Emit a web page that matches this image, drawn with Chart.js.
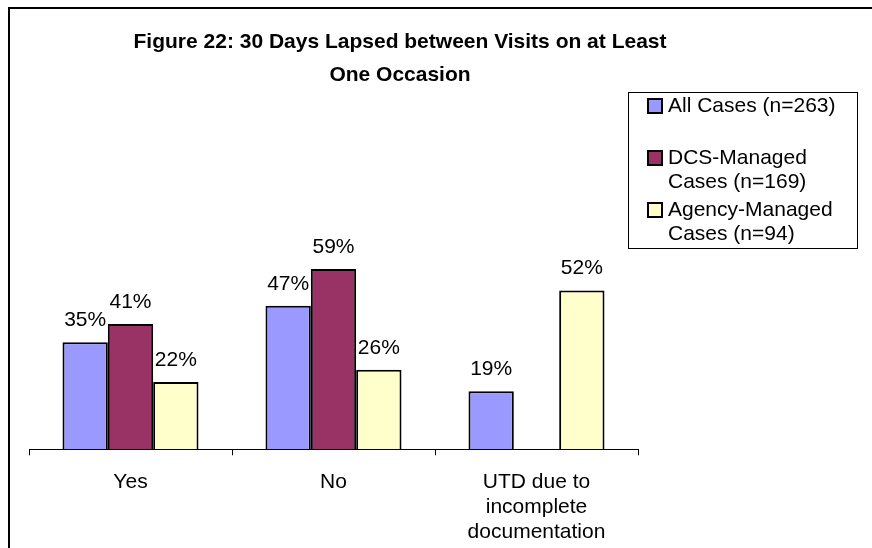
<!DOCTYPE html>
<html lang="en">
<head>
    <meta charset="UTF-8">
    <title>Figure 22: 30 Days Lapsed between Visits on at Least One Occasion</title>
    <script src="https://cdn.jsdelivr.net/npm/chart.js"></script>
    <style>
        body {
            margin: 0;
            padding: 0;
            background-color: white;
            overflow: hidden;
        }
        .wrap {
            position: relative;
            width: 872px;
            height: 548px;
        }
        .frame {
            position: absolute;
            left: 8px;
            top: 7px;
            right: -20px;
            bottom: -20px;
            border-top: 2px solid #000;
            border-left: 2px solid #000;
            pointer-events: none;
        }
        canvas {
            position: absolute;
            left: 0;
            top: 0;
        }
    </style>
</head>
<body>
    <div class="wrap">
        <canvas id="lapseChart"></canvas>
        <div class="frame"></div>
    </div>

    <script>
        const chartTitle = ['Figure 22: 30 Days Lapsed between Visits on at Least', 'One Occasion'];
        const categories = ['Yes', 'No', ['UTD due to', 'incomplete', 'documentation']];
        const seriesNames = ['All Cases (n=263)', 'DCS-Managed Cases (n=169)', 'Agency-Managed Cases (n=94)'];
        const allCases = [35, 47, 19];
        const dcsManaged = [41, 59, null];
        const agencyManaged = [22, 26, 52];

        const fontFamily = "'Liberation Sans', Arial, sans-serif";

        // title centred over the whole figure, not only the plot
        const figTitle = {
            id: 'figTitle',
            afterDraw(chart) {
                const ctx = chart.ctx;
                ctx.save();
                ctx.font = 'bold 21px ' + fontFamily;
                ctx.fillStyle = '#000';
                ctx.textAlign = 'center';
                ctx.textBaseline = 'middle';
                chartTitle.forEach((line, i) => {
                    ctx.fillText(line, 400, 42 + i * 33);
                });
                ctx.restore();
            }
        };

        // percent labels above each bar
        const barLabels = {
            id: 'barLabels',
            afterDatasetsDraw(chart) {
                const ctx = chart.ctx;
                ctx.save();
                ctx.font = '21px ' + fontFamily;
                ctx.fillStyle = '#000';
                ctx.textAlign = 'center';
                ctx.textBaseline = 'alphabetic';
                chart.data.datasets.forEach((ds, i) => {
                    chart.getDatasetMeta(i).data.forEach((bar, j) => {
                        if (ds.data[j] == null) return;
                        ctx.fillText(ds.data[j] + '%', bar.x, bar.y - 16);
                    });
                });
                ctx.restore();
            }
        };

        // Excel style legend box on the right
        const boxLegend = {
            id: 'boxLegend',
            afterDraw(chart) {
                const ctx = chart.ctx;
                const left = 628, top = 92, right = 857, bottom = 248;
                ctx.save();
                ctx.strokeStyle = '#000';
                ctx.lineWidth = 1;
                ctx.strokeRect(left + 0.5, top + 0.5, right - left, bottom - top);
                ctx.font = '21px ' + fontFamily;
                ctx.textBaseline = 'middle';
                ctx.textAlign = 'left';
                let y = 106;
                chart.data.datasets.forEach(ds => {
                    // wrap label into lines
                    const words = ds.label.split(' ');
                    const lines = [];
                    let cur = '';
                    words.forEach(w => {
                        const test = cur ? cur + ' ' + w : w;
                        if (cur && ctx.measureText(test).width > 185) {
                            lines.push(cur);
                            cur = w;
                        } else {
                            cur = test;
                        }
                    });
                    lines.push(cur);

                    ctx.fillStyle = ds.backgroundColor;
                    ctx.fillRect(648, y - 7, 14, 14);
                    ctx.lineWidth = 2;
                    ctx.strokeRect(648, y - 7, 14, 14);
                    ctx.fillStyle = '#000';
                    lines.forEach((line, k) => {
                        ctx.fillText(line, 668, y + k * 24.5);
                    });
                    y += 52;
                });
                ctx.restore();
            }
        };

        const ctx = document.getElementById('lapseChart').getContext('2d');
        const lapseChart = new Chart(ctx, {
            type: 'bar',
            data: {
                labels: categories,
                datasets: [
                    {
                        label: seriesNames[0],
                        data: allCases,
                        backgroundColor: '#9999FF',
                        borderColor: '#000',
                        borderWidth: 2
                    },
                    {
                        label: seriesNames[1],
                        data: dcsManaged,
                        backgroundColor: '#993366',
                        borderColor: '#000',
                        borderWidth: 2
                    },
                    {
                        label: seriesNames[2],
                        data: agencyManaged,
                        backgroundColor: '#FFFFCC',
                        borderColor: '#000',
                        borderWidth: 2
                    }
                ]
            },
            options: {
                responsive: true,
                maintainAspectRatio: false,
                animation: false,
                devicePixelRatio: 1,
                categoryPercentage: 0.67,
                barPercentage: 1.0,
                layout: {
                    padding: { left: 29, right: 234, top: 266, bottom: -11 }
                },
                plugins: {
                    legend: { display: false },
                    tooltip: { enabled: false },
                    title: { display: false }
                },
                scales: {
                    x: {
                        grid: {
                            display: true,
                            drawOnChartArea: false,
                            drawTicks: true,
                            tickLength: 6,
                            color: '#000',
                            offset: true
                        },
                        border: { display: true, color: '#000', width: 1 },
                        ticks: {
                            color: '#000',
                            padding: 15,
                            maxRotation: 0,
                            font: { family: fontFamily, size: 21, lineHeight: 1.17 }
                        }
                    },
                    y: {
                        display: false,
                        min: 0,
                        max: 60
                    }
                }
            },
            plugins: [barLabels, boxLegend, figTitle]
        });
    </script>
</body>
</html>
